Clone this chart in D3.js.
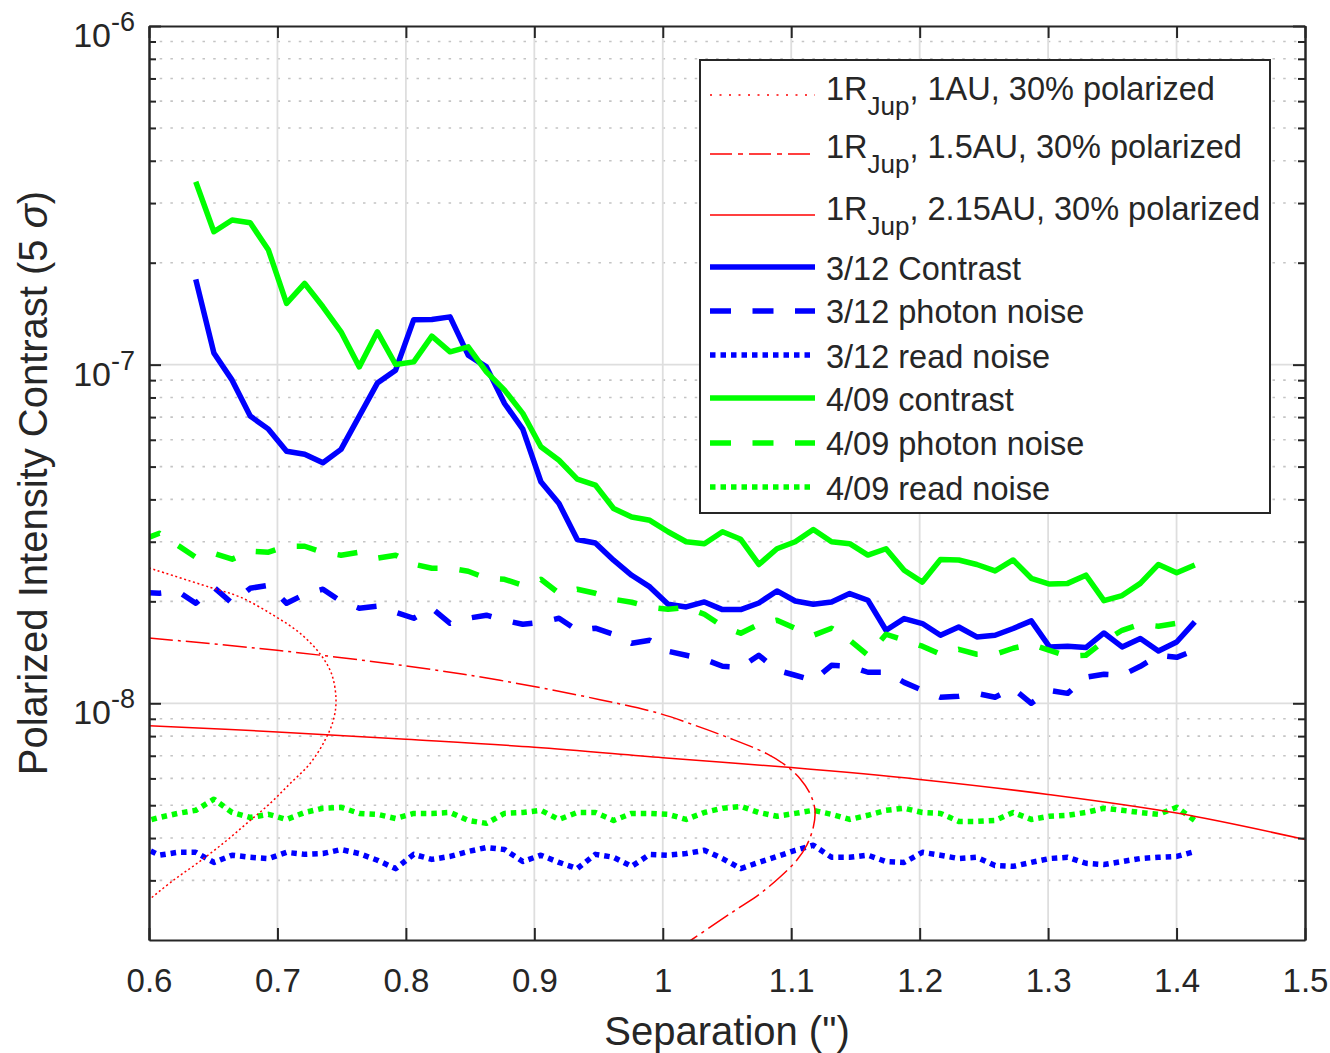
<!DOCTYPE html>
<html>
<head>
<meta charset="utf-8">
<title>Polarized Intensity Contrast</title>
<script src="https://cdn.jsdelivr.net/npm/d3@7"></script>
<style>
  body { margin: 0; background: #fff; }
  text { font-family: Arial, "Liberation Sans", Helvetica, sans-serif; fill: #262626; }
</style>
</head>
<body>
<script>
// separation grid of the measured curves (arcsec)
var separation = [0.5940, 0.6081, 0.6223, 0.6364, 0.6505, 0.6647, 0.6788, 0.6930, 0.7071, 0.7212,
  0.7354, 0.7495, 0.7637, 0.7778, 0.7920, 0.8061, 0.8202, 0.8344, 0.8485, 0.8627,
  0.8768, 0.8910, 0.9051, 0.9192, 0.9334, 0.9475, 0.9617, 0.9758, 0.9899, 1.0041,
  1.0182, 1.0324, 1.0465, 1.0607, 1.0748, 1.0889, 1.1031, 1.1172, 1.1314, 1.1455,
  1.1597, 1.1738, 1.1879, 1.2021, 1.2162, 1.2304, 1.2445, 1.2587, 1.2728, 1.2869,
  1.3011, 1.3152, 1.3294, 1.3435, 1.3576, 1.3718, 1.3859, 1.4001, 1.4142];
// contrast curves start a bit further out
var sepContrast = separation.slice(3);

var contrast0312 = [17.85e-8, 10.83e-8, 9.00e-8, 7.05e-8, 6.45e-8, 5.55e-8, 5.44e-8, 5.13e-8, 5.62e-8, 7.05e-8,
  8.82e-8, 9.63e-8, 13.58e-8, 13.6e-8, 13.84e-8, 10.67e-8, 9.85e-8, 7.68e-8, 6.45e-8, 4.51e-8,
  3.89e-8, 3.045e-8, 2.975e-8, 2.646e-8, 2.388e-8, 2.206e-8, 1.961e-8, 1.925e-8, 1.992e-8, 1.891e-8,
  1.891e-8, 1.978e-8, 2.147e-8, 2.005e-8, 1.961e-8, 1.992e-8, 2.109e-8, 2.015e-8, 1.643e-8, 1.779e-8,
  1.720e-8, 1.588e-8, 1.680e-8, 1.570e-8, 1.588e-8, 1.663e-8, 1.751e-8, 1.467e-8, 1.474e-8, 1.461e-8,
  1.613e-8, 1.467e-8, 1.553e-8, 1.427e-8, 1.517e-8, 1.739e-8];
var photon0312 = [2.128e-8, 2.113e-8, 2.142e-8, 1.974e-8, 2.201e-8, 1.974e-8, 2.186e-8, 2.231e-8, 1.974e-8, 2.099e-8,
  2.172e-8, 2.001e-8, 1.909e-8, 1.935e-8, 1.857e-8, 1.783e-8, 1.909e-8, 1.723e-8, 1.783e-8, 1.820e-8,
  1.759e-8, 1.711e-8, 1.735e-8, 1.783e-8, 1.643e-8, 1.666e-8, 1.599e-8, 1.504e-8, 1.535e-8, 1.424e-8,
  1.386e-8, 1.349e-8, 1.286e-8, 1.277e-8, 1.386e-8, 1.252e-8, 1.210e-8, 1.169e-8, 1.295e-8, 1.286e-8,
  1.235e-8, 1.235e-8, 1.153e-8, 1.092e-8, 1.042e-8, 1.049e-8, 1.070e-8, 1.042e-8, 1.107e-8, 1.000e-8,
  1.092e-8, 1.070e-8, 1.194e-8, 1.218e-8, 1.210e-8, 1.286e-8, 1.386e-8, 1.367e-8, 1.434e-8];
var read0312 = [0.378e-8, 0.356e-8, 0.363e-8, 0.363e-8, 0.339e-8, 0.356e-8, 0.351e-8, 0.348e-8, 0.363e-8, 0.358e-8,
  0.360e-8, 0.370e-8, 0.360e-8, 0.344e-8, 0.325e-8, 0.358e-8, 0.346e-8, 0.353e-8, 0.365e-8, 0.375e-8,
  0.370e-8, 0.341e-8, 0.356e-8, 0.339e-8, 0.325e-8, 0.358e-8, 0.351e-8, 0.330e-8, 0.358e-8, 0.356e-8,
  0.360e-8, 0.368e-8, 0.348e-8, 0.325e-8, 0.339e-8, 0.353e-8, 0.368e-8, 0.381e-8, 0.351e-8, 0.351e-8,
  0.356e-8, 0.341e-8, 0.339e-8, 0.363e-8, 0.356e-8, 0.348e-8, 0.351e-8, 0.332e-8, 0.330e-8, 0.339e-8,
  0.348e-8, 0.351e-8, 0.337e-8, 0.334e-8, 0.341e-8, 0.348e-8, 0.351e-8, 0.353e-8, 0.365e-8];

var contrast0409 = [34.67e-8, 24.69e-8, 26.73e-8, 26.24e-8, 21.79e-8, 15.16e-8, 17.37e-8, 14.82e-8, 12.50e-8, 9.85e-8,
  12.50e-8, 10.01e-8, 10.19e-8, 12.14e-8, 10.91e-8, 11.29e-8, 9.52e-8, 8.41e-8, 7.18e-8, 5.72e-8,
  5.22e-8, 4.59e-8, 4.41e-8, 3.76e-8, 3.55e-8, 3.47e-8, 3.21e-8, 3.00e-8, 2.96e-8, 3.21e-8,
  3.05e-8, 2.57e-8, 2.86e-8, 3.00e-8, 3.26e-8, 3.00e-8, 2.96e-8, 2.74e-8, 2.86e-8, 2.47e-8,
  2.28e-8, 2.66e-8, 2.65e-8, 2.57e-8, 2.46e-8, 2.65e-8, 2.34e-8, 2.25e-8, 2.26e-8, 2.39e-8,
  2.01e-8, 2.08e-8, 2.26e-8, 2.57e-8, 2.43e-8, 2.56e-8];
var photon0409 = [3.030e-8, 3.178e-8, 2.929e-8, 2.700e-8, 2.774e-8, 2.664e-8, 2.812e-8, 2.793e-8, 2.909e-8, 2.909e-8,
  2.793e-8, 2.737e-8, 2.793e-8, 2.682e-8, 2.737e-8, 2.574e-8, 2.505e-8, 2.505e-8, 2.455e-8, 2.340e-8,
  2.324e-8, 2.231e-8, 2.324e-8, 2.113e-8, 2.172e-8, 2.113e-8, 2.029e-8, 1.988e-8, 1.921e-8, 1.895e-8,
  1.921e-8, 1.832e-8, 1.689e-8, 1.610e-8, 1.711e-8, 1.759e-8, 1.666e-8, 1.588e-8, 1.666e-8, 1.535e-8,
  1.386e-8, 1.599e-8, 1.535e-8, 1.474e-8, 1.396e-8, 1.443e-8, 1.396e-8, 1.396e-8, 1.454e-8, 1.494e-8,
  1.434e-8, 1.377e-8, 1.386e-8, 1.525e-8, 1.643e-8, 1.711e-8, 1.689e-8, 1.723e-8, 1.759e-8];
var read0409 = [0.445e-8, 0.460e-8, 0.473e-8, 0.483e-8, 0.521e-8, 0.476e-8, 0.460e-8, 0.470e-8, 0.454e-8, 0.476e-8,
  0.490e-8, 0.493e-8, 0.473e-8, 0.470e-8, 0.457e-8, 0.473e-8, 0.473e-8, 0.476e-8, 0.451e-8, 0.442e-8,
  0.473e-8, 0.476e-8, 0.483e-8, 0.454e-8, 0.476e-8, 0.476e-8, 0.451e-8, 0.473e-8, 0.473e-8, 0.470e-8,
  0.454e-8, 0.476e-8, 0.490e-8, 0.496e-8, 0.476e-8, 0.464e-8, 0.473e-8, 0.483e-8, 0.470e-8, 0.454e-8,
  0.467e-8, 0.483e-8, 0.490e-8, 0.476e-8, 0.473e-8, 0.448e-8, 0.448e-8, 0.451e-8, 0.476e-8, 0.454e-8,
  0.464e-8, 0.467e-8, 0.476e-8, 0.490e-8, 0.483e-8, 0.476e-8, 0.470e-8, 0.493e-8, 0.451e-8];

// model planets (1 R_Jup, 30% polarized), traced along the orbit
var sep1AU = [0.600, 0.6475, 0.6709, 0.6968, 0.7176, 0.7331, 0.7422, 0.7456, 0.7435, 0.7370,
  0.7254, 0.7098, 0.6942, 0.6761, 0.6578, 0.6371, 0.6189, 0.5995];
var pol1AU = [2.51e-8, 2.20e-8, 2.06e-8, 1.82e-8, 1.61e-8, 1.40e-8, 1.22e-8, 1.02e-8, 0.891e-8, 0.778e-8,
  0.664e-8, 0.579e-8, 0.506e-8, 0.442e-8, 0.386e-8, 0.336e-8, 0.300e-8, 0.262e-8];
var sep15AU = [0.600, 0.6997, 0.8001, 0.8733, 0.9511, 0.9979, 1.0212, 1.0498, 1.0809, 1.0965, 1.1069,
  1.1147, 1.1185, 1.1172, 1.1121, 1.1043, 1.0913, 1.0757, 1.0601, 1.0446, 1.0225, 1.0056];
var pol15AU = [1.559e-8, 1.434e-8, 1.289e-8, 1.169e-8, 1.025e-8, 0.932e-8, 0.871e-8, 0.795e-8, 0.710e-8, 0.652e-8, 0.599e-8,
  0.541e-8, 0.483e-8, 0.431e-8, 0.381e-8, 0.344e-8, 0.307e-8, 0.274e-8, 0.250e-8, 0.2285e-8, 0.2004e-8, 0.1813e-8];
var sep215AU = [0.6, 0.7, 0.8, 0.9, 1.0, 1.1, 1.2, 1.3, 1.4, 1.5];
var pol215AU = [8.59e-9, 8.23e-9, 7.83e-9, 7.42e-9, 6.91e-9, 6.46e-9, 5.96e-9, 5.38e-9, 4.74e-9, 3.96e-9];

var xTicks = [0.6, 0.7, 0.8, 0.9, 1.0, 1.1, 1.2, 1.3, 1.4, 1.5];
var yTicks = [1e-8, 1e-7, 1e-6];
var yExponents = ["-8", "-7", "-6"];
var yMinor = [3e-9, 4e-9, 5e-9, 6e-9, 7e-9, 8e-9, 9e-9,
  2e-8, 3e-8, 4e-8, 5e-8, 6e-8, 7e-8, 8e-8, 9e-8,
  2e-7, 3e-7, 4e-7, 5e-7, 6e-7, 7e-7, 8e-7, 9e-7];

var w = 1330, h = 1053;
var plotL = 149, plotR = 1305, plotT = 26, plotB = 940;

var x = d3.scaleLinear().domain([0.6, 1.5]).range([plotL, plotR]);
var y = d3.scaleLog().domain([2e-9, 1e-6]).range([plotB, plotT]);

var svg = d3.select("body").append("svg")
  .attr("width", w)
  .attr("height", h);

svg.append("rect").attr("width", w).attr("height", h).attr("fill", "#fff");

svg.append("clipPath").attr("id", "plotclip")
  .append("rect")
  .attr("x", plotL).attr("y", plotT)
  .attr("width", plotR - plotL).attr("height", plotB - plotT);

// grid
var grid = svg.append("g");
grid.selectAll(".minor").data(yMinor).enter().append("line")
  .attr("x1", plotL).attr("x2", plotR)
  .attr("y1", function(d) { return y(d); })
  .attr("y2", function(d) { return y(d); })
  .attr("stroke", "#c4c4c4").attr("stroke-width", 1.6)
  .attr("stroke-dasharray", "2.5,8.2");
grid.selectAll(".ymajor").data(yTicks.slice(0, 2)).enter().append("line")
  .attr("x1", plotL).attr("x2", plotR)
  .attr("y1", function(d) { return y(d); })
  .attr("y2", function(d) { return y(d); })
  .attr("stroke", "#dedede").attr("stroke-width", 1.8);
grid.selectAll(".xmajor").data(xTicks.slice(1, -1)).enter().append("line")
  .attr("y1", plotT).attr("y2", plotB)
  .attr("x1", function(d) { return x(d); })
  .attr("x2", function(d) { return x(d); })
  .attr("stroke", "#dedede").attr("stroke-width", 1.8);

// curves
var line = d3.line()
  .x(function(d) { return x(d[0]); })
  .y(function(d) { return y(d[1]); });
var smooth = d3.line()
  .curve(d3.curveCatmullRom.alpha(0.5))
  .x(function(d) { return x(d[0]); })
  .y(function(d) { return y(d[1]); });

var series = [
  {label: "1AU", sep: sep1AU, val: pol1AU, color: "#ff0000", width: 1.5, dash: "2,2.6", key: "2,7.5", smooth: true},
  {label: "1.5AU", sep: sep15AU, val: pol15AU, color: "#ff0000", width: 1.5, dash: "24,5,3,5", key: "22,6,5,6", smooth: true},
  {label: "2.15AU", sep: sep215AU, val: pol215AU, color: "#ff0000", width: 1.5, dash: null, key: null, smooth: true},
  {label: "3/12 Contrast", sep: sepContrast, val: contrast0312, color: "#0000ff", width: 5.5, dash: null, key: null},
  {label: "3/12 photon noise", sep: separation, val: photon0312, color: "#0000ff", width: 5.5, dash: "20,22", key: "21,21.5"},
  {label: "3/12 read noise", sep: separation, val: read0312, color: "#0000ff", width: 5.5, dash: "5.5,5", key: "5.5,5"},
  {label: "4/09 contrast", sep: sepContrast, val: contrast0409, color: "#00ff00", width: 5.5, dash: null, key: null},
  {label: "4/09 photon noise", sep: separation, val: photon0409, color: "#00ff00", width: 5.5, dash: "20,22", key: "21,21.5"},
  {label: "4/09 read noise", sep: separation, val: read0409, color: "#00ff00", width: 5.5, dash: "5.5,5", key: "5.5,5"}
];

// measured curves first, model curves on top
var drawOrder = [3, 4, 5, 6, 7, 8, 0, 1, 2];
var plot = svg.append("g").attr("clip-path", "url(#plotclip)");
drawOrder.forEach(function(i) {
  var s = series[i];
  var pts = s.sep.map(function(v, j) { return [v, s.val[j]]; });
  plot.append("path")
    .attr("d", (s.smooth ? smooth : line)(pts))
    .attr("fill", "none")
    .attr("stroke", s.color)
    .attr("stroke-width", s.width)
    .attr("stroke-linejoin", "round")
    .attr("stroke-dasharray", s.dash);
});

// axes
function styleAxis(g) {
  g.selectAll("path.domain").attr("stroke", "#262626").attr("stroke-width", 2);
  g.selectAll(".tick line").attr("stroke", "#262626").attr("stroke-width", 2);
}

svg.append("g")
  .attr("transform", "translate(0," + plotB + ")")
  .call(d3.axisBottom(x).tickValues(xTicks).tickSize(-12).tickSizeOuter(0).tickPadding(29)
    .tickFormat(function(d) { return d3.format("")(+d.toFixed(1)); }))
  .call(styleAxis)
  .call(function(g) {
    g.selectAll("text").attr("font-size", 33).attr("fill", "#262626")
      .style("font-family", "Arial, 'Liberation Sans', sans-serif");
  });
svg.append("g")
  .attr("transform", "translate(0," + plotT + ")")
  .call(d3.axisTop(x).tickValues(xTicks).tickSize(-12).tickSizeOuter(0).tickFormat(""))
  .call(styleAxis);
svg.append("g")
  .attr("transform", "translate(" + plotL + ",0)")
  .call(d3.axisLeft(y).tickValues(yTicks).tickSize(-12).tickSizeOuter(0).tickFormat(""))
  .call(styleAxis);
svg.append("g")
  .attr("transform", "translate(" + plotL + ",0)")
  .call(d3.axisLeft(y).tickValues(yMinor).tickSize(-7).tickSizeOuter(0).tickFormat(""))
  .call(styleAxis);
svg.append("g")
  .attr("transform", "translate(" + plotR + ",0)")
  .call(d3.axisRight(y).tickValues(yTicks).tickSize(-12).tickSizeOuter(0).tickFormat(""))
  .call(styleAxis);
svg.append("g")
  .attr("transform", "translate(" + plotR + ",0)")
  .call(d3.axisRight(y).tickValues(yMinor).tickSize(-7).tickSizeOuter(0).tickFormat(""))
  .call(styleAxis);

// y tick labels as 10^n
var yl = svg.append("g");
yTicks.forEach(function(t, i) {
  var lab = yl.append("text")
    .attr("x", 135)
    .attr("y", y(t) + 21)
    .attr("text-anchor", "end")
    .attr("font-size", 34);
  lab.append("tspan").text("10");
  lab.append("tspan").attr("dy", -16).attr("font-size", 27).text(yExponents[i]);
});

// axis titles
svg.append("text")
  .attr("x", (plotL + plotR) / 2)
  .attr("y", 1045)
  .attr("text-anchor", "middle")
  .attr("font-size", 40)
  .text("Separation (\")");

var ytitle = svg.append("text")
  .attr("transform", "translate(47," + ((plotT + plotB) / 2) + ") rotate(-90)")
  .attr("text-anchor", "middle")
  .attr("font-size", 40);
ytitle.append("tspan").text("Polarized Intensity Contrast (5 ");
ytitle.append("tspan").attr("font-style", "italic").text("\u03c3");
ytitle.append("tspan").text(")");

// legend
var legend = svg.append("g");
legend.append("rect")
  .attr("x", 700).attr("y", 60)
  .attr("width", 570).attr("height", 453)
  .attr("fill", "#fff")
  .attr("stroke", "#262626")
  .attr("stroke-width", 2);

var rowLine = [95, 154, 215, 267, 311, 355, 398, 443, 487];
var rowText = [100, 158, 220, 280, 323, 368, 411, 455, 500];

series.forEach(function(s, i) {
  legend.append("line")
    .attr("x1", 710).attr("x2", 815)
    .attr("y1", rowLine[i]).attr("y2", rowLine[i])
    .attr("stroke", s.color)
    .attr("stroke-width", s.width)
    .attr("stroke-dasharray", s.key);
  var t = legend.append("text")
    .attr("x", 826)
    .attr("y", rowText[i])
    .attr("font-size", 32.5)
    .attr("fill", "#000");
  if (i < 3) {
    t.append("tspan").text("1R");
    t.append("tspan").attr("dy", 15).attr("font-size", 26).text("Jup");
    t.append("tspan").attr("dy", -15).text(", " + s.label + ", 30% polarized");
  } else {
    t.text(s.label);
  }
});
</script>
</body>
</html>
